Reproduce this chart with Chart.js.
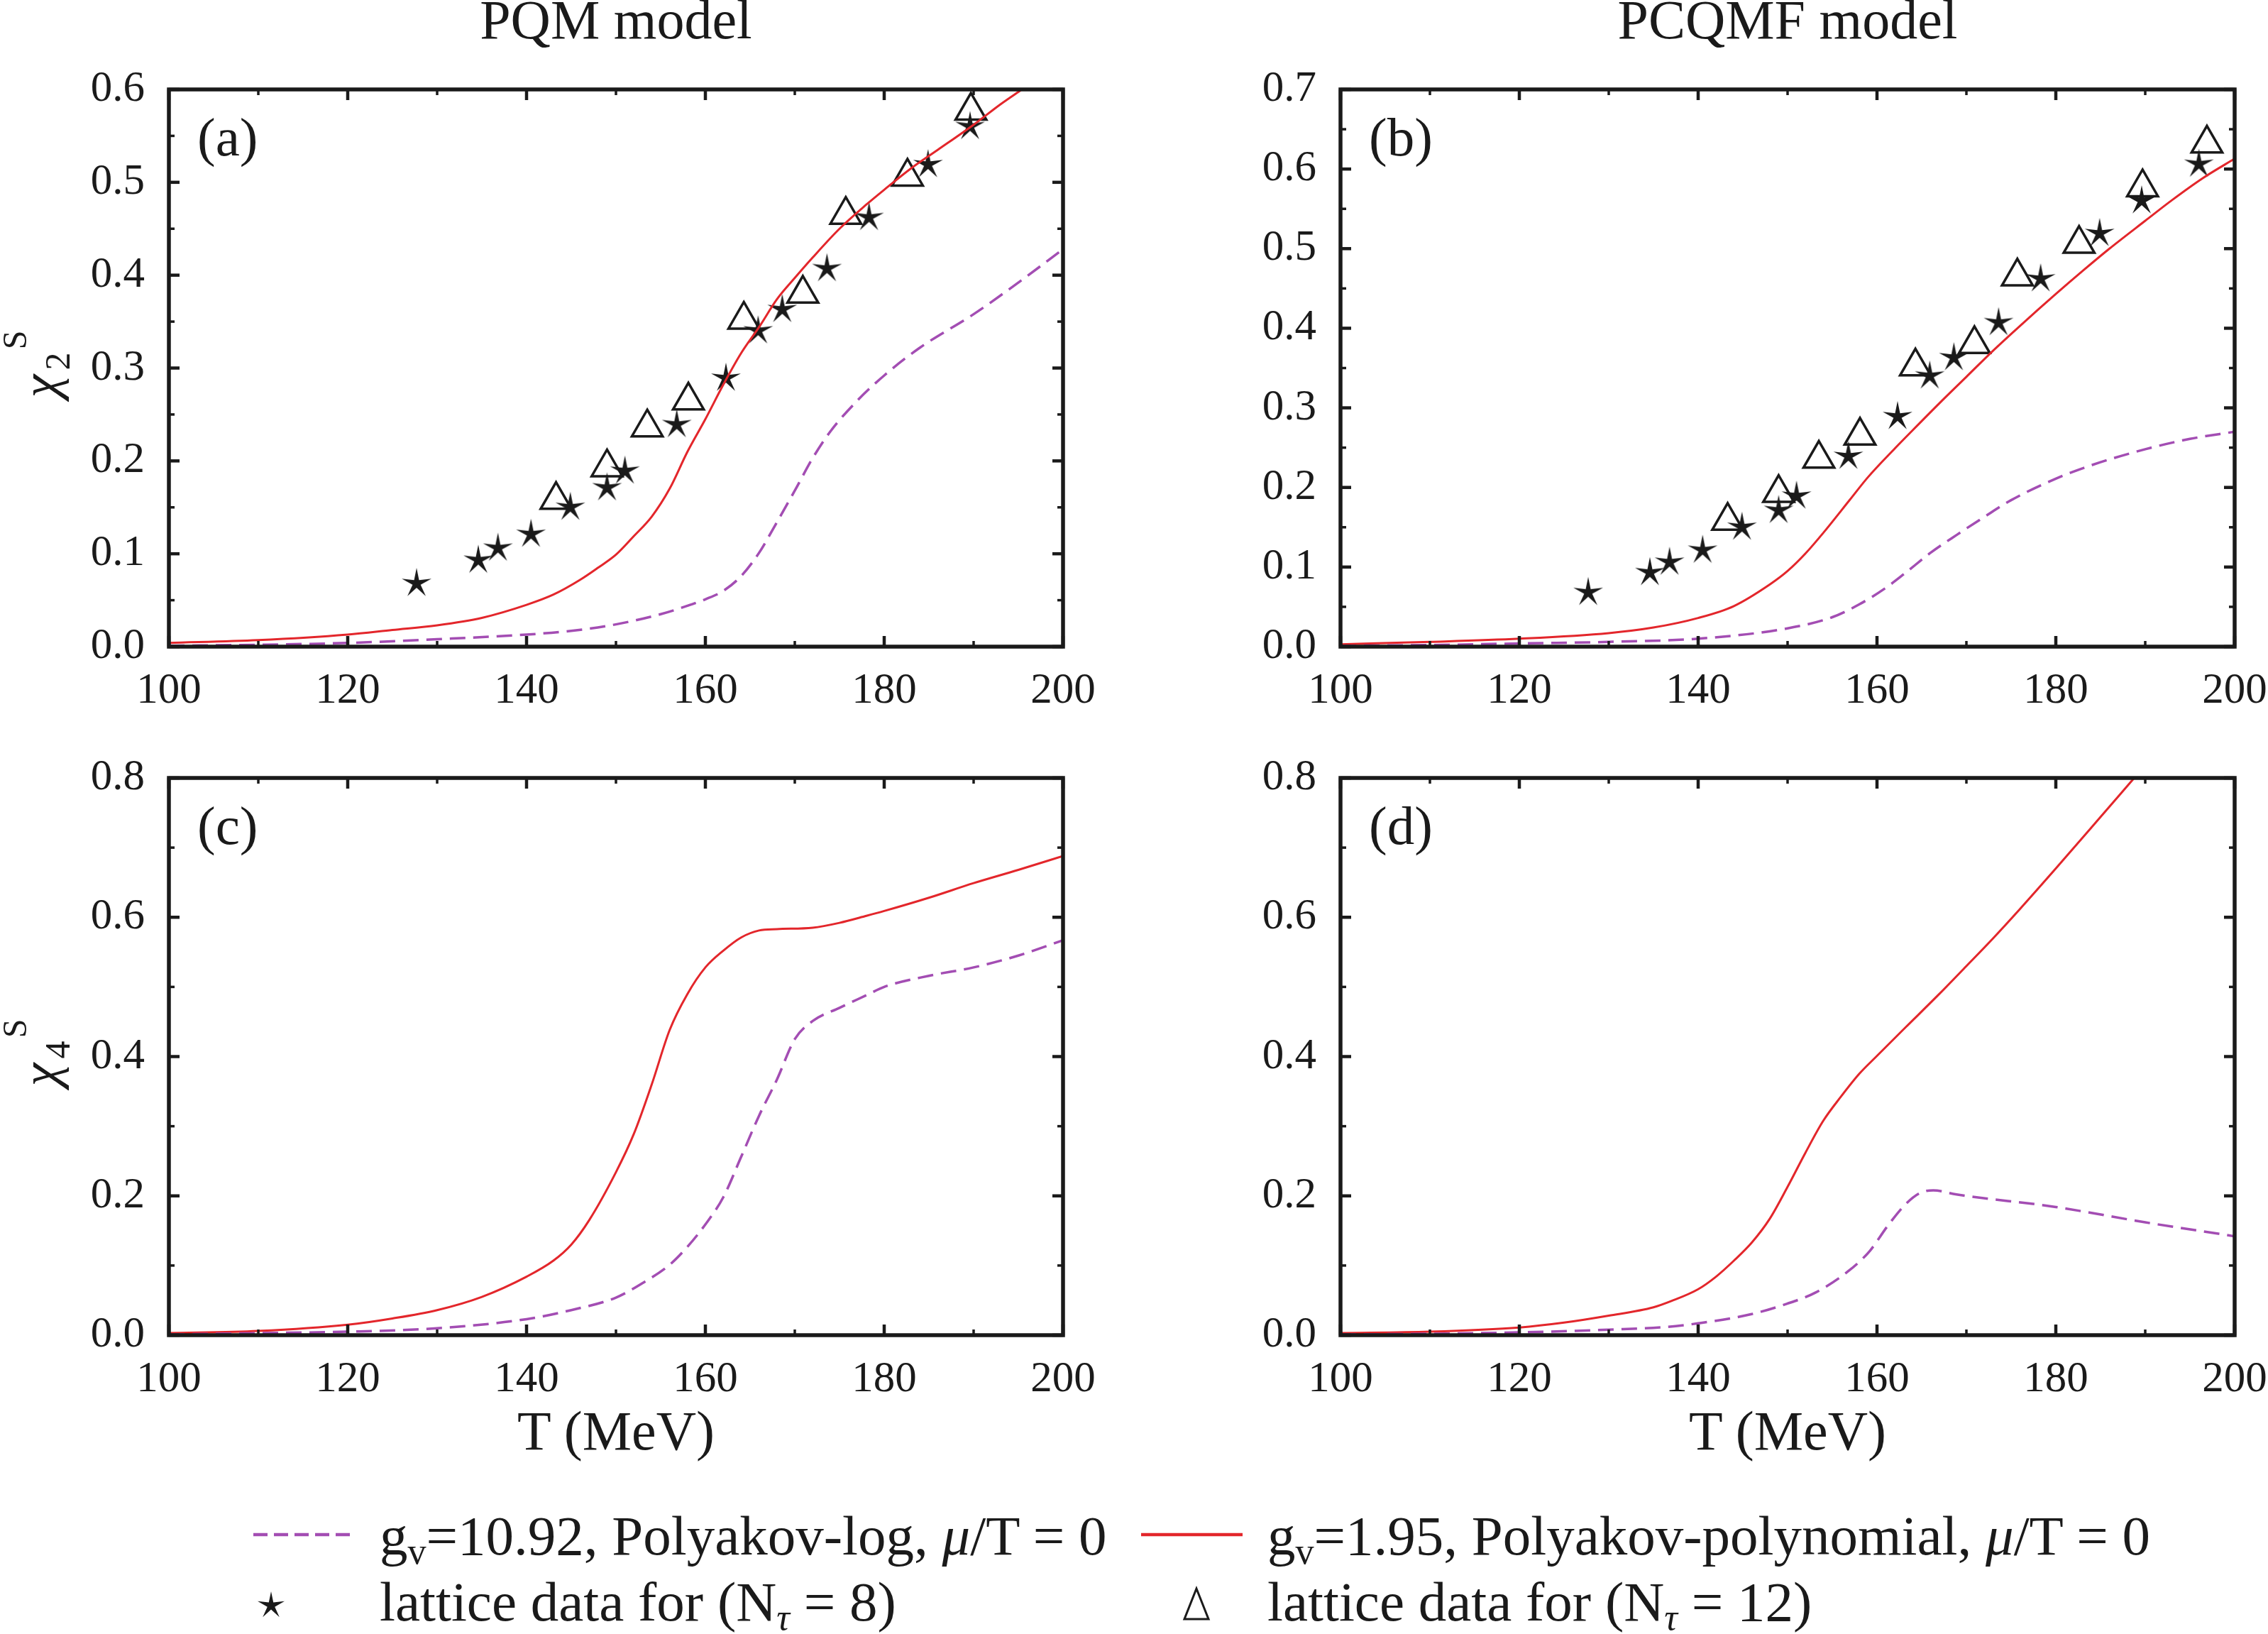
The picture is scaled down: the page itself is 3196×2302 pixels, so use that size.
<!DOCTYPE html>
<html><head><meta charset="utf-8">
<script src="https://cdn.jsdelivr.net/npm/chart.js@4.4.1/dist/chart.umd.min.js"></script>
<style>
html,body{margin:0;padding:0;background:#fff;}
body{width:3196px;height:2302px;position:relative;overflow:hidden;font-family:"Liberation Serif","Times New Roman",serif;color:#1a1a1a;}
canvas{position:absolute;}
.t{position:absolute;white-space:nowrap;line-height:1;font-family:"Liberation Serif","Times New Roman",serif;}
.sub{font-size:0.66em;vertical-align:-0.24em;}
</style></head><body>
<canvas id="pa"></canvas><canvas id="pb"></canvas><canvas id="pc"></canvas><canvas id="pd"></canvas>
<svg id="leg" style="position:absolute;left:0;top:2100px" width="3196" height="202"></svg>
<script>
// ---------------- data ----------------
// lattice data (same in panels a and b)
const T_lat8     = [127.7, 134.6, 136.8, 140.5, 144.9, 149.0, 151.0, 156.8, 162.3, 165.9, 168.6, 173.6, 178.3, 184.9, 189.6, 196.0];
const chi2_lat8  = [0.068, 0.093, 0.106, 0.121, 0.150, 0.171, 0.189, 0.239, 0.289, 0.340, 0.363, 0.407, 0.462, 0.519, 0.560, 0.606];
const T_lat12    = [143.3, 149.0, 153.5, 158.1, 164.3, 170.9, 175.7, 182.6, 189.7, 196.9];
const chi2_lat12 = [0.158, 0.193, 0.236, 0.265, 0.352, 0.380, 0.465, 0.506, 0.577, 0.632];

// (a) PQM chi2
const T_a_log   = [100,110,120,130,140,145,150,155,158,160,162,164,166,168,170,172,174,177,180,184,190,195,200];
const chi_a_log = [0.001,0.002,0.004,0.008,0.013,0.017,0.024,0.035,0.044,0.051,0.060,0.076,0.101,0.134,0.168,0.203,0.232,0.265,0.292,0.322,0.358,0.392,0.428];
const T_a_poly   = [100,110,120,125,130,135,140,143,146,148,150,152,154,156,158,160,162,164,166,168,170,172,175,178,180,183,186,190,193,195.4];
const chi_a_poly = [0.004,0.007,0.013,0.018,0.023,0.031,0.045,0.056,0.072,0.085,0.099,0.119,0.140,0.170,0.210,0.245,0.282,0.316,0.344,0.374,0.397,0.419,0.450,0.476,0.492,0.515,0.535,0.562,0.584,0.600];

// (b) PCQMF chi2
const T_b_log   = [100,110,120,130,140,150,155,158,161,163,166,169,172,175,180,184,190,195,200];
const chi_b_log = [0.001,0.002,0.004,0.006,0.010,0.023,0.037,0.053,0.074,0.091,0.118,0.141,0.163,0.184,0.211,0.228,0.248,0.261,0.270];
const T_b_poly   = [100,110,120,130,135,140,144,148,150,152,154,157,159,162,164,167,170,173,176,180,183,186,190,193,196.5,200];
const chi_b_poly = [0.003,0.006,0.010,0.017,0.024,0.036,0.051,0.078,0.095,0.117,0.143,0.185,0.213,0.249,0.272,0.306,0.339,0.372,0.403,0.443,0.472,0.500,0.535,0.561,0.589,0.613];

// (c) PQM chi4
const T_c_log   = [100,110,120,130,140,145,150,153,156,158,160,162,164,166,168,170,172,175,178,180,185,190,195,200];
const chi_c_log = [0.001,0.003,0.005,0.010,0.023,0.036,0.054,0.075,0.101,0.127,0.159,0.198,0.256,0.315,0.367,0.425,0.451,0.470,0.488,0.500,0.516,0.528,0.545,0.567];
const T_c_poly   = [100,110,120,125,130,135,140,143,145,147,150,152,154,156,158,160,162,164,166,168,172,175,178,180,185,190,195,200];
const chi_c_poly = [0.003,0.006,0.015,0.024,0.036,0.055,0.084,0.107,0.130,0.165,0.234,0.289,0.360,0.438,0.490,0.528,0.552,0.571,0.581,0.583,0.585,0.592,0.602,0.609,0.628,0.649,0.668,0.688];

// (d) PCQMF chi4
const T_d_log   = [100,110,120,130,136.6,140,145.9,149.9,153.1,156.8,159.2,161.2,163.2,164.8,166.3,168.9,180,190,200];
const chi_d_log = [0.001,0.002,0.004,0.008,0.012,0.017,0.030,0.045,0.061,0.092,0.121,0.157,0.188,0.204,0.208,0.202,0.184,0.162,0.142];
const T_d_poly   = [100,110,120,125,130,135,137,140,142,144,146,148,150,152,154,156,158,160,163.2,166.9,170,173,176,180,184.6,188.7];
const chi_d_poly = [0.003,0.005,0.011,0.018,0.028,0.040,0.049,0.066,0.084,0.107,0.133,0.167,0.213,0.262,0.308,0.343,0.375,0.401,0.442,0.489,0.530,0.570,0.612,0.670,0.738,0.799];

// axes
const xRange = [100, 200], xStep = 20;
const yMax_a = 0.6, yMax_b = 0.7, yMax_c = 0.8, yMax_d = 0.8;
const yStep_a = 0.1, yStep_b = 0.1, yStep_c = 0.2, yStep_d = 0.2;

// ---------------- style ----------------
const RED = '#e3262b', PURPLE = '#a34db3', INK = '#1a1a1a';
const FONT = '"Liberation Serif", "Times New Roman", serif';
Chart.defaults.font.family = FONT;

function starPath(cx, cy, R, r) {
  const p = [];
  for (let i = 0; i < 10; i++) {
    const a = -Math.PI / 2 + i * Math.PI / 5, rr = i % 2 ? r : R;
    p.push([cx + rr * Math.cos(a), cy + rr * Math.sin(a)]);
  }
  return p;
}
function makeStar(size) {
  const c = document.createElement('canvas'); c.width = c.height = size;
  const g = c.getContext('2d');
  const R = size / 2 - 1;
  g.beginPath();
  starPath(size / 2, size / 2, R, R * 0.27).forEach(([x, y], i) => i ? g.lineTo(x, y) : g.moveTo(x, y));
  g.closePath(); g.fillStyle = INK; g.fill();
  return c;
}
const starImg = makeStar(46);

function pts(T, Y, ymax) {
  return T.map((t, i) => ({x: t, y: Y[i]})).filter(p => ymax == null || p.y <= ymax + 1e-9);
}

const framePlugin = {
  id: 'frame',
  afterDraw(chart) {
    const {ctx, chartArea: a, scales: {x, y}} = chart;
    ctx.save();
    ctx.strokeStyle = INK; ctx.lineCap = 'butt';
    const seg = (x1, y1, x2, y2, lw) => { ctx.lineWidth = lw; ctx.beginPath(); ctx.moveTo(x1, y1); ctx.lineTo(x2, y2); ctx.stroke(); };
    const xs = x.ticks.map(t => t.value), ys = y.ticks.map(t => t.value);
    const MJ = 15, MN = 8;
    xs.forEach(v => { const p = x.getPixelForValue(v); seg(p, a.bottom, p, a.bottom - MJ, 4.5); seg(p, a.top, p, a.top + MJ, 4.5); });
    for (let i = 0; i < xs.length - 1; i++) { const p = x.getPixelForValue((xs[i] + xs[i + 1]) / 2); seg(p, a.bottom, p, a.bottom - MN, 3.5); seg(p, a.top, p, a.top + MN, 3.5); }
    ys.forEach(v => { const p = y.getPixelForValue(v); seg(a.left, p, a.left + MJ, p, 4.5); seg(a.right, p, a.right - MJ, p, 4.5); });
    for (let i = 0; i < ys.length - 1; i++) { const p = y.getPixelForValue((ys[i] + ys[i + 1]) / 2); seg(a.left, p, a.left + MN, p, 3.5); seg(a.right, p, a.right - MN, p, 3.5); }
    ctx.lineWidth = 5.5;
    ctx.strokeRect(a.left, a.top, a.right - a.left, a.bottom - a.top);
    ctx.restore();
  }
};

function makeChart(id, g, ymax, ystep, logT, logY, polyT, polyY, withLattice) {
  const cv = document.getElementById(id);
  cv.width = g.w; cv.height = g.h;
  Object.assign(cv.style, {left: g.left + 'px', top: g.top + 'px', width: g.w + 'px', height: g.h + 'px'});
  const yW = g.l - g.left, xH = 90;
  const datasets = [
    {data: pts(logT, logY), borderColor: PURPLE, borderWidth: 3.5, borderDash: [22, 11], pointRadius: 0, cubicInterpolationMode: 'monotone', fill: false},
    {data: pts(polyT, polyY), borderColor: RED, borderWidth: 3, pointRadius: 0, cubicInterpolationMode: 'monotone', fill: false}
  ];
  if (withLattice) {
    datasets.push({data: pts(T_lat8, chi2_lat8, ymax), showLine: false, pointStyle: starImg, pointRadius: 21, borderColor: INK, backgroundColor: INK});
    datasets.push({data: pts(T_lat12, chi2_lat12, ymax), showLine: false, pointStyle: 'triangle', pointRadius: 25, borderColor: INK, backgroundColor: 'rgba(0,0,0,0)', pointBorderWidth: 3.5, borderWidth: 3.5});
  }
  new Chart(cv, {
    type: 'line',
    data: {datasets},
    options: {
      responsive: false, animation: false, devicePixelRatio: 1, events: [],
      layout: {padding: {left: 0, top: g.t - g.top, right: (g.left + g.w) - g.r, bottom: (g.top + g.h) - g.b - xH}},
      plugins: {legend: {display: false}, tooltip: {enabled: false}},
      scales: {
        x: {type: 'linear', min: xRange[0], max: xRange[1],
            ticks: {stepSize: xStep, font: {family: FONT, size: 61}, color: INK, padding: 26, maxRotation: 0, autoSkip: false},
            grid: {display: false, drawTicks: false}, border: {display: false},
            afterFit(s) { s.height = xH; }},
        y: {type: 'linear', min: 0, max: ymax,
            ticks: {stepSize: ystep, font: {family: FONT, size: 61}, color: INK, padding: 34, callback: v => v.toFixed(1)},
            grid: {display: false, drawTicks: false}, border: {display: false},
            afterFit(s) { s.width = yW; }}
      }
    },
    plugins: [framePlugin]
  });
}

const GA = {left: 0,    top: 0,    w: 1600, h: 1050, l: 238,  r: 1498, t: 126,  b: 911};
const GB = {left: 1600, top: 0,    w: 1700, h: 1050, l: 1889, r: 3149, t: 126,  b: 911};
const GC = {left: 0,    top: 1000, w: 1600, h: 1000, l: 238,  r: 1498, t: 1096, b: 1881};
const GD = {left: 1600, top: 1000, w: 1700, h: 1000, l: 1889, r: 3149, t: 1096, b: 1881};

makeChart('pa', GA, yMax_a, yStep_a, T_a_log, chi_a_log, T_a_poly, chi_a_poly, true);
makeChart('pb', GB, yMax_b, yStep_b, T_b_log, chi_b_log, T_b_poly, chi_b_poly, true);
makeChart('pc', GC, yMax_c, yStep_c, T_c_log, chi_c_log, T_c_poly, chi_c_poly, false);
makeChart('pd', GD, yMax_d, yStep_d, T_d_log, chi_d_log, T_d_poly, chi_d_poly, false);

// ---------------- text ----------------
function addText(html, x, baseline, size, align, extra) {
  const d = document.createElement('div');
  d.className = 't';
  d.innerHTML = html;
  d.style.fontSize = size + 'px';
  d.style.top = (baseline - 0.8375 * size) + 'px';
  d.style.left = x + 'px';
  if (align === 'center') d.style.transform = 'translateX(-50%)';
  if (extra) Object.assign(d.style, extra);
  document.body.appendChild(d);
  return d;
}
function addRot(html, cx, cy, size, extra) {
  const d = document.createElement('div');
  d.className = 't';
  d.innerHTML = html;
  d.style.fontSize = size + 'px';
  d.style.lineHeight = size + 'px';
  d.style.left = cx + 'px'; d.style.top = cy + 'px';
  d.style.transform = 'translate(-50%,-50%) rotate(-90deg)';
  if (extra) Object.assign(d.style, extra);
  document.body.appendChild(d);
}

addText('PQM model', (GA.l + GA.r) / 2, 54, 78, 'center');
addText('PCQMF model', (GB.l + GB.r) / 2, 54, 78, 'center');
addText('(a)', GA.l + 40, GA.t + 93, 77);
addText('(b)', GB.l + 40, GB.t + 93, 77);
addText('(c)', GC.l + 40, GC.t + 93, 77);
addText('(d)', GD.l + 40, GD.t + 93, 77);
addText('T (MeV)', (GC.l + GC.r) / 2, 2042, 78, 'center');
addText('T (MeV)', (GD.l + GD.r) / 2, 2042, 78, 'center');

// y axis titles chi_2^S and chi_4^S
[[GA, '2'], [GC, '4']].forEach(([g, n]) => {
  const c = (g.t + g.b) / 2;
  addRot('χ', 56, c + 25, 74, {fontStyle: 'italic'});
  addRot(n, 81, c - 10, 50);
  addRot('S', 21, c - 40, 48);
});

// legend
addText('g<span class="sub">v</span>=10.92, Polyakov-log, <i>μ</i>/T = 0', 535, 2190, 79);
addText('g<span class="sub">v</span>=1.95, Polyakov-polynomial, <i>μ</i>/T = 0', 1786, 2190, 79);
addText('lattice data for (N<span class="sub"><i>τ</i></span> = 8)', 535, 2283, 79);
addText('lattice data for (N<span class="sub"><i>τ</i></span> = 12)', 1786, 2283, 79);

const svg = document.getElementById('leg');
const NS = 'http://www.w3.org/2000/svg';
function el(tag, attrs) { const e = document.createElementNS(NS, tag); for (const k in attrs) e.setAttribute(k, attrs[k]); svg.appendChild(e); return e; }
el('line', {x1: 357, y1: 62, x2: 500, y2: 62, stroke: PURPLE, 'stroke-width': 4.5, 'stroke-dasharray': '20 9'});
el('line', {x1: 1608, y1: 62, x2: 1751, y2: 62, stroke: RED, 'stroke-width': 4.5});
el('polygon', {points: starPath(382, 162, 20, 5.5).map(p => p.join(',')).join(' '), fill: INK});
el('polygon', {points: '1686,138 1669,181 1703,181', fill: 'none', stroke: INK, 'stroke-width': 3});
</script>
</body></html>
